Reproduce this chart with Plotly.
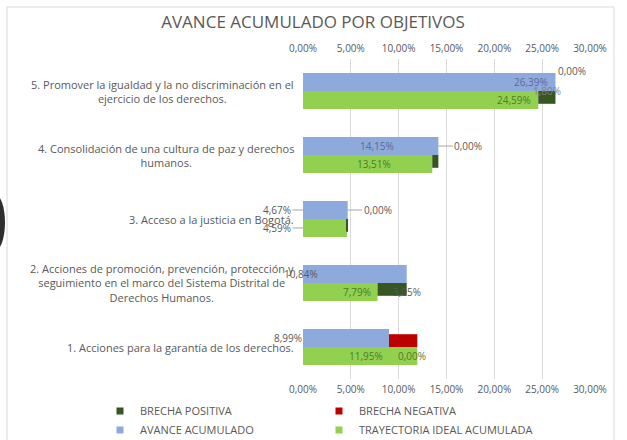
import plotly.graph_objects as go

# ---------------- data ----------------
categories = [
    "1. Acciones para la garantía de los derechos.",
    "2. Acciones de promoción, prevención, protección y<br>seguimiento en el marco del Sistema Distrital de<br>Derechos Humanos.",
    "3. Acceso a la justicia en Bogotá.",
    "4. Consolidación de una cultura de paz y derechos<br>humanos.",
    "5. Promover la igualdad y la no discriminación en el<br>ejercicio de los derechos.",
]
avance = [8.99, 10.84, 4.67, 14.15, 26.39]
trayectoria = [11.95, 7.79, 4.59, 13.51, 24.59]
brecha_pos = [0.00, 3.05, 0.08, 0.64, 1.80]
brecha_neg = [2.96, 0.00, 0.00, 0.00, 0.00]
tick_vals = [0, 5, 10, 15, 20, 25, 30]

# ---------------- style ----------------
C_BLUE = "#8EA9DB"
C_GREEN = "#92D050"
C_DKGREEN = "#375623"
C_RED = "#C00000"
TXT = "#595959"
BLUE_TXT = "#5B6A99"
GREEN_TXT = "#4F7A2C"
FONT = "Open Sans"
LAB = 10   # bar label font size

W, H = 627, 440
L, R, T, B = 303, 590, 59, 379  # plot area in pixels


def px_x(p):
    return (p - L) / (R - L)


def px_y(p):
    return (B - p) / (B - T)


def fmt(v):
    return f"{v:.2f}".replace(".", ",") + "%"


tick_text = [fmt(v) for v in tick_vals]
idx = list(range(len(categories)))
BW = 0.28   # row height (category units)
GW = 0.2    # gap bar height

fig = go.Figure()
fig.add_trace(go.Bar(y=idx, x=avance, orientation="h", base=0, offset=0, width=BW,
                     marker=dict(color=C_BLUE, line=dict(width=0)), showlegend=False,
                     hoverinfo="x"))
fig.add_trace(go.Bar(y=idx, x=trayectoria, orientation="h", base=0, offset=-BW, width=BW,
                     marker=dict(color=C_GREEN, line=dict(width=0)), showlegend=False,
                     hoverinfo="x"))
fig.add_trace(go.Bar(y=idx, x=brecha_neg, orientation="h", base=avance, offset=0, width=GW,
                     marker=dict(color=C_RED, line=dict(width=0)), showlegend=False,
                     hoverinfo="x"))
fig.add_trace(go.Bar(y=idx, x=brecha_pos, orientation="h", base=trayectoria, offset=-GW, width=GW,
                     marker=dict(color=C_DKGREEN, line=dict(width=0)), showlegend=False,
                     hoverinfo="x"))
# top axis carrier
fig.add_trace(go.Scatter(x=[0, 30], y=[None, None], xaxis="x2", mode="markers",
                         showlegend=False, hoverinfo="skip"))

# legend entries (small squares)
legend_items = [
    ("BRECHA POSITIVA", C_DKGREEN, "legend"),
    ("BRECHA NEGATIVA", C_RED, "legend"),
    ("AVANCE ACUMULADO", C_BLUE, "legend2"),
    ("TRAYECTORIA IDEAL ACUMULADA", C_GREEN, "legend2"),
]
for name, col, lg in legend_items:
    fig.add_trace(go.Scatter(x=[None], y=[None], mode="markers", name=name, legend=lg,
                             marker=dict(symbol="square", size=7, color=col)))

ann = []
# category labels
for i, c in enumerate(categories):
    ann.append(dict(xref="paper", yref="y", x=px_x(296), y=i, xanchor="right",
                    yanchor="middle", align="center", text=c, showarrow=False,
                    font=dict(family=FONT, size=11, color=TXT)))

yb = lambda i: i + BW / 2   # blue row centre
yg = lambda i: i - BW / 2   # green row centre

blue_style = ["left", "leftc", "leader", "center", "inend"]
green_style = ["center", "inend", "leader", "center", "inend"]


def bar_label(v, y, style, color):
    f = dict(family=FONT, size=LAB, color=color)
    if style == "inend":
        return dict(x=v, y=y, xanchor="right", xshift=-5, text=fmt(v), showarrow=False, font=f)
    if style == "center":
        return dict(x=v / 2, y=y, xanchor="center", xshift=6, text=fmt(v), showarrow=False, font=f)
    if style == "left":
        return dict(x=0, y=y, xanchor="right", xshift=1, text=fmt(v), showarrow=False, font=f)
    if style == "leftc":
        return dict(x=0, y=y, xanchor="center", xshift=-2, text=fmt(v), showarrow=False, font=f)
    if style == "leader":
        return dict(x=0, y=y, ax=-26, ay=0, text=fmt(v), showarrow=True, arrowhead=0,
                    arrowwidth=1, arrowcolor="#A6A6A6", standoff=0, font=f)


for i in idx:
    a = bar_label(avance[i], yb(i), blue_style[i], BLUE_TXT if blue_style[i] in ("inend", "center") else TXT)
    a.update(xref="x", yref="y", yanchor="middle")
    ann.append(a)
    g = bar_label(trayectoria[i], yg(i), green_style[i], GREEN_TXT if green_style[i] in ("inend", "center") else TXT)
    g.update(xref="x", yref="y", yanchor="middle")
    ann.append(g)

gf = dict(family=FONT, size=LAB, color=TXT)
# brecha negativa labels
ann.append(dict(xref="x", yref="y", x=avance[0] + brecha_neg[0] / 2, y=0 + GW / 2,
                text=fmt(brecha_neg[0]), showarrow=False, font=dict(family=FONT, size=LAB, color="#B00000")))
for i in (2, 3):
    ann.append(dict(xref="x", yref="y", x=avance[i], y=yb(i), ax=30, ay=0, text=fmt(brecha_neg[i]),
                    showarrow=True, arrowhead=0, arrowwidth=1, arrowcolor="#A6A6A6", standoff=0,
                    font=gf))
ann.append(dict(xref="x", yref="y", x=avance[4], y=4 + 0.31, xanchor="left", xshift=1,
                yanchor="middle", text=fmt(brecha_neg[4]), showarrow=False, font=gf))

# brecha positiva labels
ann.append(dict(xref="x", yref="y", x=trayectoria[0] + brecha_pos[0], y=yg(0), xanchor="center",
                xshift=-5, text=fmt(brecha_pos[0]), showarrow=False,
                font=dict(family=FONT, size=LAB, color=GREEN_TXT)))
ann.append(dict(xref="x", yref="y", x=trayectoria[1] + brecha_pos[1], y=yg(1), xanchor="center",
                text=fmt(brecha_pos[1]), showarrow=False, font=gf))
ann.append(dict(xref="x", yref="y", x=trayectoria[4] + brecha_pos[4] / 2, y=4, xanchor="center",
                yshift=0, text=fmt(brecha_pos[4]), showarrow=False,
                font=dict(family=FONT, size=LAB, color="#7F7F7F")))

shapes = [
    dict(type="rect", xref="paper", yref="paper", x0=px_x(7), x1=px_x(614), y0=px_y(460), y1=px_y(7),
         line=dict(color="#D9D9D9", width=1), fillcolor="rgba(0,0,0,0)", layer="below"),
    dict(type="circle", xref="paper", yref="paper", x0=px_x(-14), x1=px_x(5), y0=px_y(250), y1=px_y(195),
         line=dict(width=0), fillcolor="#2E2E2E"),
]

axis_common = dict(range=[0, 30], tickvals=tick_vals, ticktext=tick_text,
                   showgrid=True, gridcolor="#D9D9D9", gridwidth=1, zeroline=False,
                   showline=False, ticks="", tickfont=dict(family=FONT, size=10, color=TXT),
                   fixedrange=True)

LEG_FONT = dict(family=FONT, size=11, color=TXT)
fig.update_layout(
    width=W, height=H,
    margin=dict(l=L, r=W - R, t=T, b=H - B, pad=0, autoexpand=False),
    paper_bgcolor="white", plot_bgcolor="white",
    barmode="overlay",
    separators=",.",
    title=dict(text="AVANCE ACUMULADO POR OBJETIVOS", x=313 / W,
               xanchor="center", y=1 - 22 / H, yanchor="middle",
               font=dict(family=FONT, size=17, color=TXT)),
    xaxis=dict(**axis_common, side="bottom", ticklabelstandoff=3),
    xaxis2=dict(**axis_common, side="top", overlaying="x", matches="x", ticklabelstandoff=4),
    yaxis=dict(range=[-0.5, 4.5], showticklabels=False, showgrid=False, zeroline=False,
               ticks="", fixedrange=True),
    legend=dict(orientation="h", x=px_x(100), y=px_y(411), xanchor="left", yanchor="middle",
                entrywidth=174, entrywidthmode="pixels", itemwidth=30,
                font=LEG_FONT, bgcolor="rgba(0,0,0,0)"),
    legend2=dict(orientation="h", x=px_x(100), y=px_y(430), xanchor="left", yanchor="middle",
                 entrywidth=174, entrywidthmode="pixels", itemwidth=30,
                 font=LEG_FONT, bgcolor="rgba(0,0,0,0)"),
    annotations=ann,
    shapes=shapes,
    font=dict(family=FONT, color=TXT),
)

fig.write_html("out.html")
